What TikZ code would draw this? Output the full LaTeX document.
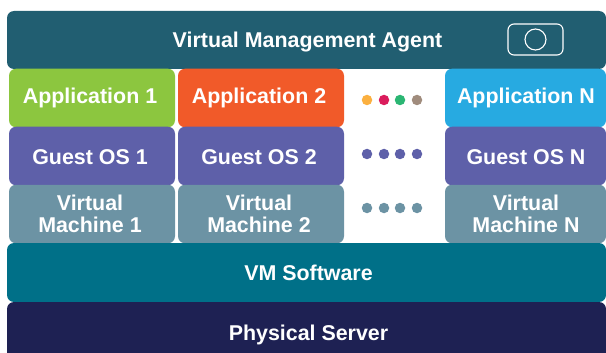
\documentclass[tikz,border=0pt]{standalone}
\usepackage{fontspec}
\setmainfont{Liberation Sans}
\tikzset{
  x=1pt,y=-1pt,
  layer/.style={fill=#1,rounded corners=7pt,inner sep=0pt,text=white,align=center,
    font=\fontsize{21.4pt}{22pt}\selectfont\bfseries},
  label text/.style={layer=none,fill=none},
  dotmark/.style={circle,fill=#1,inner sep=0pt,minimum size=10.5pt},
  cell/.style={layer=#1,minimum width=166pt,minimum height=58.5pt},
  cellN/.style={layer=#1,minimum width=161pt,minimum height=58.5pt},
  wide/.style={layer=#1,minimum width=599pt},
}
\definecolor{agentc}{HTML}{215E71}
\definecolor{appa}{HTML}{8CC63F}
\definecolor{appb}{HTML}{F15A29}
\definecolor{appn}{HTML}{27AAE1}
\definecolor{osc}{HTML}{5E60A9}
\definecolor{vmc}{HTML}{6C93A4}
\definecolor{softc}{HTML}{007088}
\definecolor{physc}{HTML}{1E2153}
\definecolor{dota}{HTML}{FBB040}
\definecolor{dotb}{HTML}{DA1C5C}
\definecolor{dotc}{HTML}{2BB673}
\definecolor{dotd}{HTML}{A08C7D}
\begin{document}
\begin{tikzpicture}
\useasboundingbox (0,0) rectangle (606,353);
\clip (0,0) rectangle (606,353);
\node[wide=agentc,minimum height=58pt] (agent) at (306.5,40) {};
\node[label text] (agenttext) at (307.5,42) {Virtual Management Agent};
\node[cell=appa] (app1) at (92,98) {};
\node[cell=appb] (app2) at (261,98) {};
\node[cellN=appn] (appN) at (525.5,98) {};
\node[label text] (app1t) at (90,98) {Application 1};
\node[label text] (app2t) at (259,98) {Application 2};
\node[label text] (appNt) at (526,98) {Application N};
\node[cell=osc] (os1) at (92,156) {};
\node[cell=osc] (os2) at (261,156) {};
\node[cellN=osc] (osN) at (525.5,156) {};
\node[label text] (os1t) at (90,157) {Guest OS 1};
\node[label text] (os2t) at (259,157) {Guest OS 2};
\node[label text] (osNt) at (526,157) {Guest OS N};
\node[cell=vmc] (vm1) at (92,214) {};
\node[cell=vmc] (vm2) at (261,214) {};
\node[cellN=vmc] (vmN) at (525.5,214) {};
\node[label text] (vm1t) at (90,214) {Virtual\\Machine 1};
\node[label text] (vm2t) at (259,214) {Virtual\\Machine 2};
\node[label text] (vmNt) at (526,214) {Virtual\\Machine N};
\node[wide=softc,minimum height=59pt] (soft) at (306.5,272.5) {};
\node[label text] (softt) at (308.5,272.5) {VM Software};
\node[wide=physc,minimum height=70pt] (phys) at (306.5,337) {};
\node[label text] (physt) at (308.5,335) {Physical Server};
\node[draw=white,line width=1.1pt,rounded corners=6pt,minimum width=55pt,minimum height=31pt,inner sep=0pt] (icon) at (535.5,39.5) {};
\node[draw=white,line width=1.1pt,circle,minimum size=21pt,inner sep=0pt] (iconc) at (535.5,39.5) {};
\foreach \nm/\x/\c in {a/367/dota,b/384/dotb,c/400/dotc,d/417/dotd}{
  \node[dotmark=\c] (d1\nm) at (\x,100) {};
}
\foreach \nm/\x in {a/367,b/384,c/400,d/417}{
  \node[dotmark=osc] (d2\nm) at (\x,154) {};
  \node[dotmark=vmc] (d3\nm) at (\x,208) {};
}
\end{tikzpicture}
\end{document}
